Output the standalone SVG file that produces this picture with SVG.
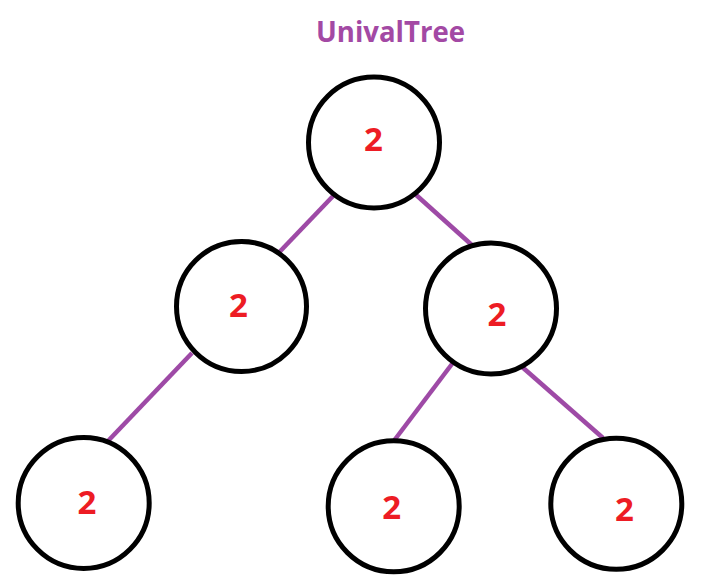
<svg xmlns="http://www.w3.org/2000/svg" width="710" height="587" viewBox="0 0 710 587">
<style>
.node circle{fill:#fff;stroke:#000;stroke-width:5}
.node text{font-family:"Open Sans","Noto Sans",sans-serif;font-weight:bold;font-size:33px;fill:#ED1C24;text-anchor:middle}
.edges line{stroke:#9E4AA6;stroke-width:4.5;stroke-linecap:butt}
.title{font-family:"Open Sans","Noto Sans",sans-serif;font-weight:bold;font-size:29px;fill:#A349A4;text-anchor:middle}
</style>
<rect width="710" height="587" fill="#fff"/>
<text class="title" x="390.5" y="41.5" textLength="149" lengthAdjust="spacingAndGlyphs">UnivalTree</text>
<g id="edges" class="edges">
<line x1="335.5" y1="193.5" x2="278.5" y2="253"/>
<line x1="414.5" y1="193.5" x2="473.5" y2="246.5"/>
<line x1="192" y1="353" x2="108" y2="441"/>
<line x1="455" y1="360" x2="394.5" y2="440"/>
<line x1="521" y1="366" x2="603" y2="438"/>
</g>
<g id="n-root" class="node"><circle cx="374" cy="142.5" r="65.5"/><text x="373.5" y="151">2</text></g>
<g id="n-left" class="node"><circle cx="241.5" cy="306.5" r="65"/><text x="238.5" y="316.5">2</text></g>
<g id="n-right" class="node"><circle cx="491" cy="308.5" r="65.5"/><text x="497" y="325.5">2</text></g>
<g id="n-ll" class="node"><circle cx="83.7" cy="503" r="65.5"/><text x="87" y="514">2</text></g>
<g id="n-rl" class="node"><circle cx="393.7" cy="506.3" r="65.5"/><text x="391.7" y="519">2</text></g>
<g id="n-rr" class="node"><circle cx="616.3" cy="503.8" r="65.5"/><text x="624.5" y="521">2</text></g>
</svg>
